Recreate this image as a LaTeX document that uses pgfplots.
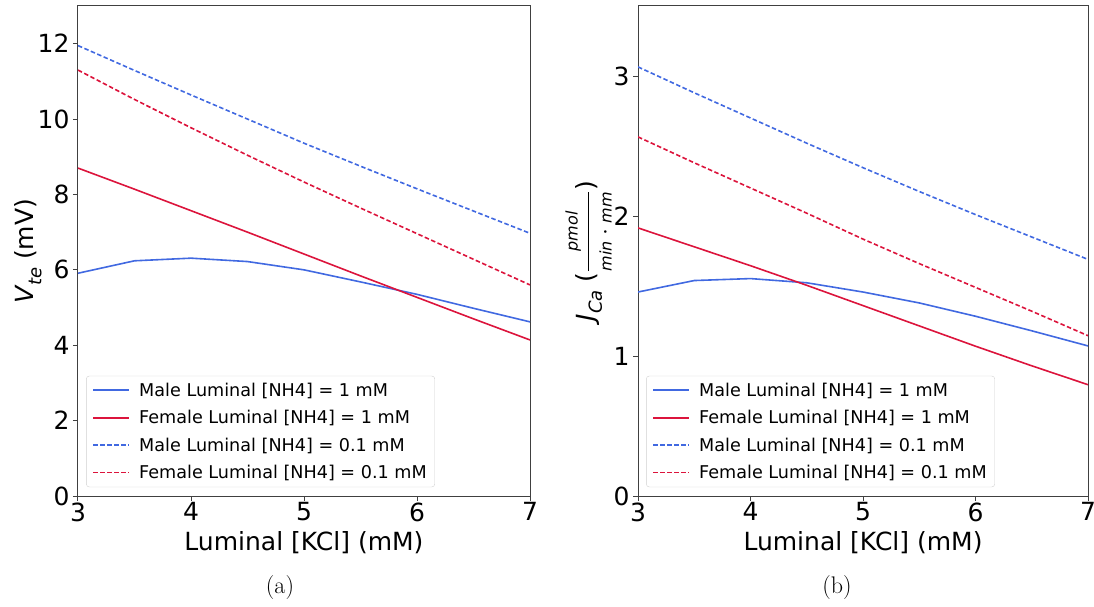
\documentclass[border=0pt]{standalone}
\usepackage{fontspec}
\usepackage{amsmath}
\usepackage{pgfplots}
\pgfplotsset{compat=1.18}
\newfontfamily\dejavu{DejaVu Sans}
\definecolor{mblue}{HTML}{4169E1}
\definecolor{fred}{HTML}{DC143C}
\pgfplotsset{
  myax/.style={
    scale only axis, height=490pt,
    xmin=3, xmax=7, ymin=0,
    xtick={3,4,5,6,7},
    tick align=outside, tick pos=left,
    major tick length=5pt,
    axis line style={black!75, line width=1pt},
    tick style={black!75, line width=1pt},
    /pgf/number format/assume math mode=true,
    ticklabel style={font=\dejavu\fontsize{25}{25}\selectfont},
    xticklabel style={yshift=2pt},
    xlabel style={font=\dejavu\fontsize{25}{30}\selectfont, at={(axis description cs:0.5,-0.096)}, anchor=center},
    ylabel style={font=\dejavu\fontsize{25}{30}\selectfont, anchor=center},
    legend cell align=left,
    legend style={at={(0.018,0.018)}, anchor=south west, draw=black!18, rounded corners=3pt,
      fill=white, font=\dejavu\fontsize{17.6}{21}\selectfont,
      inner xsep=6pt, inner ysep=5pt, row sep=8.5pt, column sep=7pt},
    legend image code/.code={\draw[#1, line width=1.9pt] (0pt,0pt) -- (36pt,0pt);},
  },
  m1/.style={mblue, line width=1.6pt},
  f1/.style={fred, line width=1.6pt},
  m01/.style={mblue, line width=1.6pt, dash pattern=on 4.5pt off 2.5pt},
  f01/.style={fred, line width=1.6pt, dash pattern=on 4.5pt off 2.5pt},
}
\begin{document}
\begin{tikzpicture}[x=1pt,y=1pt]
\begin{axis}[myax, at={(0pt,0pt)}, anchor=south west, width=452pt,
  ymax=13, ytick={0,2,4,6,8,10,12},
  xlabel={Luminal [KCl] (mM)},
  ylabel={{\itshape V}\raisebox{-0.3em}{\fontsize{18}{18}\selectfont\itshape te} (mV)},
  ylabel style={at={(axis description cs:-0.11,0.5)}},
]
\addplot[m1] coordinates {(3,5.91) (3.5,6.24) (4,6.31) (4.5,6.22) (5,6.00) (5.5,5.68) (6,5.35) (6.5,4.98) (7,4.62)};
\addlegendentry{Male Luminal [NH4] = 1 mM}
\addplot[f1] coordinates {(3,8.70) (3.5,8.14) (4,7.57) (4.5,7.00) (5,6.42) (5.5,5.84) (6,5.27) (6.5,4.70) (7,4.14)};
\addlegendentry{Female Luminal [NH4] = 1 mM}
\addplot[m01] coordinates {(3,11.95) (3.5,11.29) (4,10.64) (4.5,10.00) (5,9.36) (5.5,8.75) (6,8.15) (6.5,7.56) (7,6.97)};
\addlegendentry{Male Luminal [NH4] = 0.1 mM}
\addplot[f01] coordinates {(3,11.30) (3.5,10.52) (4,9.77) (4.5,9.04) (5,8.33) (5.5,7.64) (6,6.96) (6.5,6.28) (7,5.60)};
\addlegendentry{Female Luminal [NH4] = 0.1 mM}
\end{axis}
\begin{axis}[myax, at={(560pt,0pt)}, anchor=south west, width=450pt,
  ymax=3.5, ytick={0,1,2,3},
  xlabel={Luminal [KCl] (mM)},
  ylabel={{\itshape J}\raisebox{-0.3em}{\fontsize{18}{18}\selectfont\itshape Ca} ($\dfrac{\text{\fontsize{16}{16}\selectfont\itshape pmol}}{\text{\fontsize{16}{16}\selectfont\itshape min}\cdot\text{\fontsize{16}{16}\selectfont\itshape mm}}$)},
  ylabel style={at={(axis description cs:-0.11,0.5)}},
]
\addplot[m1] coordinates {(3,1.457) (3.5,1.539) (4,1.553) (4.5,1.523) (5,1.457) (5.5,1.379) (6,1.284) (6.5,1.180) (7,1.072)};
\addlegendentry{Male Luminal [NH4] = 1 mM}
\addplot[f1] coordinates {(3,1.915) (3.5,1.780) (4,1.645) (4.5,1.505) (5,1.360) (5.5,1.215) (6,1.070) (6.5,0.930) (7,0.795)};
\addlegendentry{Female Luminal [NH4] = 1 mM}
\addplot[m01] coordinates {(3,3.065) (3.5,2.880) (4,2.700) (4.5,2.520) (5,2.345) (5.5,2.175) (6,2.010) (6.5,1.850) (7,1.690)};
\addlegendentry{Male Luminal [NH4] = 0.1 mM}
\addplot[f01] coordinates {(3,2.565) (3.5,2.380) (4,2.200) (4.5,2.020) (5,1.835) (5.5,1.660) (6,1.490) (6.5,1.320) (7,1.145)};
\addlegendentry{Female Luminal [NH4] = 0.1 mM}
\end{axis}
\node[font=\fontsize{24}{28}\selectfont] at (202pt,-92pt) {(a)};
\node[font=\fontsize{24}{28}\selectfont] at (759pt,-92pt) {(b)};
\pgfresetboundingbox
\path[use as bounding box] (-78pt,-110pt) rectangle (1016pt,496pt);
\end{tikzpicture}
\end{document}
